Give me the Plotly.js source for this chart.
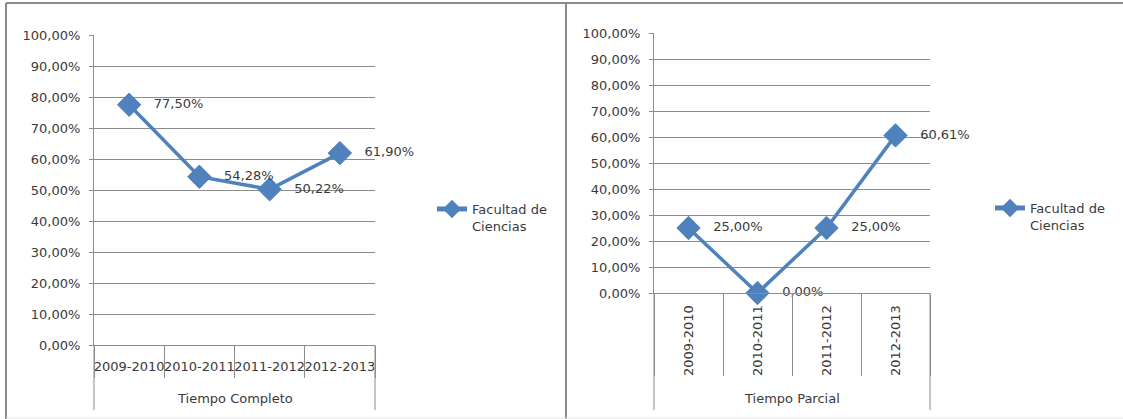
<!DOCTYPE html>
<html><head><meta charset="utf-8">
<script src="https://cdn.plot.ly/plotly-3.0.1.min.js"></script>
<style>html,body{margin:0;padding:0;background:#fff}#chart{width:1123px;height:419px}</style>
</head><body><div id="chart"></div>
<script>
const categories = ['2009-2010', '2010-2011', '2011-2012', '2012-2013'];
const completoValues = [0.7750, 0.5428, 0.5022, 0.6190];
const parcialValues = [0.2500, 0.0000, 0.2500, 0.6061];
const seriesName = 'Facultad de<br>Ciencias';
const completoTitle = 'Tiempo Completo';
const parcialTitle = 'Tiempo Parcial';

const W = 1123, H = 419;
const px = v => v / W;
const py = v => 1 - v / H;
const BLUE = '#4F81BD';
const GRID = '#8c8c8c';
const TXT = '#3a3a3a';
const FONT = 'DejaVu Sans';
const FS = 13;

function series(vals, xa, ya, leg) {
  return {
    type: 'scatter', mode: 'lines+markers+text',
    x: categories, y: vals, xaxis: xa, yaxis: ya,
    name: seriesName, legend: leg,
    line: {color: BLUE, width: 3.5},
    marker: {symbol: 'diamond', size: 18, color: BLUE, line: {color: BLUE, width: 1}},
    texttemplate: '\u00a0\u00a0\u00a0%{y:.2%}', textposition: 'middle right',
    textfont: {family: FONT, size: FS, color: TXT},
    cliponaxis: false, showlegend: true
  };
}

const data = [
  series(completoValues, 'x', 'y', 'legend'),
  series(parcialValues, 'x2', 'y2', 'legend2')
];

function yax(d) {
  return {
    domain: d, range: [0, 1], dtick: 0.1, tick0: 0, tickformat: '.2%',
    showgrid: true, gridcolor: GRID, gridwidth: 1,
    showline: true, linecolor: GRID, linewidth: 1,
    zeroline: false, ticks: 'outside', ticklen: 4, tickcolor: GRID,
    ticklabelstandoff: 6, tickfont: {family: FONT, size: FS, color: TXT},
    automargin: false, fixedrange: true
  };
}
function xax(d, anchor, angle, len, standoff) {
  return {
    domain: d, anchor: anchor, type: 'category', range: [-0.5, 3.5],
    showgrid: false, showline: true, linecolor: GRID, linewidth: 1,
    zeroline: false, ticks: 'outside', tickson: 'boundaries', ticklen: len, tickcolor: GRID, tickwidth: 1,
    tickangle: angle, ticklabelstandoff: standoff,
    tickfont: {family: FONT, size: FS, color: TXT}, automargin: false, fixedrange: true
  };
}

const xdL = [px(94), px(375)], ydL = [py(345), py(35)];
const xdR = [px(654), px(930)], ydR = [py(293), py(33)];

const frame = {color: '#8a8a8a', width: 2};
const shapes = [
  {type: 'line', xref: 'paper', yref: 'paper', x0: px(6), x1: px(6), y0: py(3), y1: 0, line: frame},
  {type: 'line', xref: 'paper', yref: 'paper', x0: px(6), x1: 1, y0: py(3), y1: py(3), line: frame},
  {type: 'line', xref: 'paper', yref: 'paper', x0: px(566), x1: px(566), y0: py(3), y1: 0, line: frame},
  {type: 'line', xref: 'paper', yref: 'paper', x0: px(6), x1: 1, y0: py(418), y1: py(418), line: {color: '#e6e6e6', width: 1}},
  {type: 'line', xref: 'x domain', yref: 'paper', x0: 0, x1: 0, y0: py(345), y1: py(410), line: {color: GRID, width: 1}},
  {type: 'line', xref: 'x domain', yref: 'paper', x0: 1, x1: 1, y0: py(345), y1: py(410), line: {color: GRID, width: 1}},
  {type: 'line', xref: 'x2 domain', yref: 'paper', x0: 0, x1: 0, y0: py(293), y1: py(410), line: {color: GRID, width: 1}},
  {type: 'line', xref: 'x2 domain', yref: 'paper', x0: 1, x1: 1, y0: py(293), y1: py(410), line: {color: GRID, width: 1}}
];

const annotations = [
  {xref: 'x domain', yref: 'paper', x: 0.5, y: py(398), text: completoTitle, showarrow: false,
   xanchor: 'center', yanchor: 'middle', font: {family: FONT, size: FS, color: TXT}},
  {xref: 'x2 domain', yref: 'paper', x: 0.5, y: py(398), text: parcialTitle, showarrow: false,
   xanchor: 'center', yanchor: 'middle', font: {family: FONT, size: FS, color: TXT}}
];

function leg(xl, yt) {
  return {x: px(xl), y: py(yt), xanchor: 'left', yanchor: 'top', xref: 'paper', yref: 'paper',
    bgcolor: 'rgba(0,0,0,0)', borderwidth: 0, valign: 'top', itemsizing: 'constant',
    font: {family: FONT, size: FS, color: TXT}};
}

const layout = {
  width: W, height: H, margin: {l: 0, r: 0, t: 0, b: 0, pad: 0, autoexpand: false},
  paper_bgcolor: '#ffffff', plot_bgcolor: '#ffffff', separators: ',.',
  font: {family: FONT, size: FS, color: TXT},
  xaxis: xax(xdL, 'y', 0, 32, 9),
  yaxis: Object.assign(yax(ydL), {anchor: 'x'}),
  xaxis2: xax(xdR, 'y2', -90, 82, 6),
  yaxis2: Object.assign(yax(ydR), {anchor: 'x2'}),
  legend: leg(432, 194),
  legend2: leg(990, 193),
  shapes: shapes, annotations: annotations, hovermode: false
};

Plotly.newPlot('chart', data, layout, {displayModeBar: false, staticPlot: true});
</script></body></html>
